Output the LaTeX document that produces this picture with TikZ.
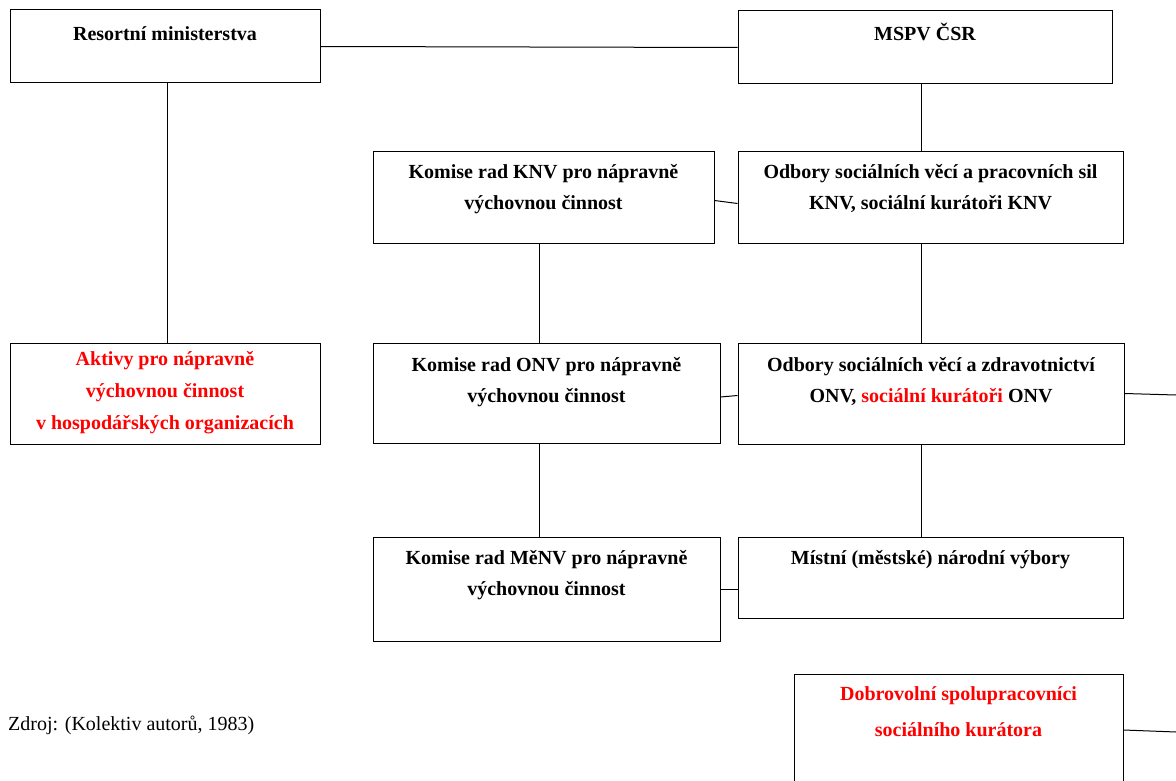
\documentclass[tikz,border=0pt]{standalone}
\usepackage{fontspec}
\setmainfont{Liberation Serif}
\usepackage{xcolor}
\usetikzlibrary{positioning}
\tikzset{
	box/.style={draw=black, line width=1pt, inner sep=0pt, fill=white},
	txt/.style={align=center, inner sep=0pt, font=\bfseries\fontsize{20}{31}\selectfont},
	redtxt/.style={txt, text=red},
	link/.style={draw=black, line width=1pt},
}

\begin{document}
\begin{tikzpicture}[x=1pt, y=-1pt]
	\useasboundingbox[fill=white] (0,0) rectangle (1176,781);
	% boxes
	\node[box, minimum width=310pt, minimum height=73pt] (res) at (165,46.5) {};
	\node[box, minimum width=374pt, minimum height=73pt] (mspv) at (925,47.5) {};
	\node[box, minimum width=341pt, minimum height=91pt] (kknv) at (543.5,197.5) {};
	\node[box, minimum width=385pt, minimum height=91pt] (oknv) at (930.5,197.5) {};
	\node[box, minimum width=310pt, minimum height=101pt] (akt) at (165,393.5) {};
	\node[box, minimum width=347pt, minimum height=100pt] (konv) at (546.5,393) {};
	\node[box, minimum width=386pt, minimum height=101pt] (oonv) at (931,393.5) {};
	\node[box, minimum width=347pt, minimum height=104pt] (kmenv) at (546.5,589) {};
	\node[box, minimum width=385pt, minimum height=81pt] (mist) at (930.5,577.5) {};
	\node[box, minimum width=329pt, minimum height=112pt] (dobr) at (958.5,730) {};
	% texts
	\node[txt, below=17pt of res.north] (resT) {Resortní ministerstva};
	\node[txt, below=12pt of mspv.north] (mspvT) {MSPV ČSR};
	\node[txt, below=13pt of kknv.north] (kknvT) {Komise rad KNV pro nápravně\\výchovnou činnost};
	\node[txt, below=13pt of oknv.north] (oknvT) {Odbory sociálních věcí a pracovních sil\\KNV, sociální kurátoři KNV};
	\node[redtxt, below=9pt of akt.north, font=\bfseries\fontsize{20}{32}\selectfont] (aktT) {Aktivy pro nápravně\\výchovnou činnost\\v hospodářských organizacích};
	\node[txt, below=15pt of konv.north] (konvT) {Komise rad ONV pro nápravně\\výchovnou činnost};
	\node[txt, below=15pt of oonv.north] (oonvT) {Odbory sociálních věcí a zdravotnictví\\ONV, \textcolor{red}{sociální kurátoři} ONV};
	\node[txt, below=14pt of kmenv.north] (kmenvT) {Komise rad MěNV pro nápravně\\výchovnou činnost};
	\node[txt, below=14pt of mist.north] (mistT) {Místní (městské) národní výbory};
	\node[redtxt, below=13pt of dobr.north, font=\bfseries\fontsize{20}{36}\selectfont] (dobrT) {Dobrovolní spolupracovníci\\sociálního kurátora};
	\node[anchor=base west, inner sep=0pt, font=\fontsize{20}{24}\selectfont] (src) at (8,730) {Zdroj: (Kolektiv autorů, 1983)};
	% spines and free ends
	\coordinate (lsp) at (167,0);
	\coordinate (msp) at (539,0);
	\coordinate (rsp) at (921,0);
	\coordinate (edgeA) at (1176,395);
	\coordinate (edgeB) at (1176,732);
	% connectors
	\draw[link] (res.east) -- (mspv.west);
	\draw[link] (res.south -| lsp) -- (akt.north -| lsp);
	\draw[link] (mspv.south -| rsp) -- (oknv.north -| rsp);
	\draw[link] ([yshift=-3pt]kknv.east) -- ([yshift=-6pt]oknv.west);
	\draw[link] (kknv.south -| msp) -- (konv.north -| msp);
	\draw[link] (oknv.south -| rsp) -- (oonv.north -| rsp);
	\draw[link] ([yshift=-4pt]konv.east) -- ([yshift=-2pt]oonv.west);
	\draw[link] (oonv.east) -- (edgeA);
	\draw[link] (konv.south -| msp) -- (kmenv.north -| msp);
	\draw[link] (oonv.south -| rsp) -- (mist.north -| rsp);
	\draw[link] (kmenv.east) -- (kmenv.east -| mist.west);
	\draw[link] (dobr.east) -- (edgeB);
\end{tikzpicture}
\end{document}
